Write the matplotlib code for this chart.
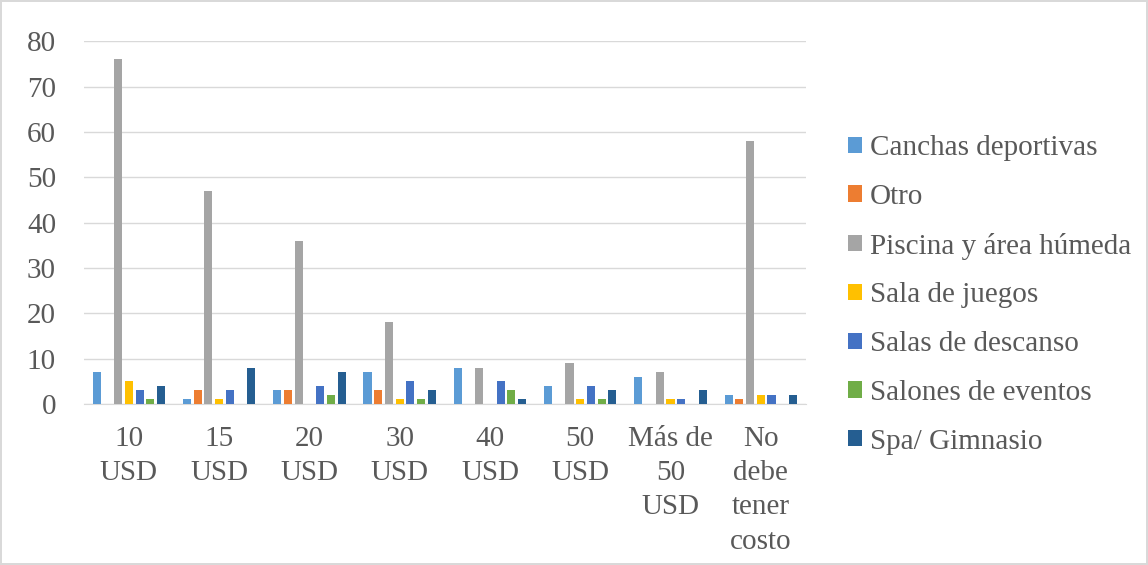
import numpy as np
import matplotlib.pyplot as plt
from matplotlib.patches import Patch

plt.rcParams['font.family'] = ['Liberation Serif', 'DejaVu Serif']

# categorías del eje x
categorias = ['10\nUSD', '15\nUSD', '20\nUSD', '30\nUSD', '40\nUSD', '50\nUSD',
              'Más de\n50\nUSD', 'No\ndebe\ntener\ncosto']

series = ['Canchas deportivas', 'Otro', 'Piscina y área húmeda', 'Sala de juegos',
          'Salas de descanso', 'Salones de eventos', 'Spa/ Gimnasio']

canchas = [7, 1, 3, 7, 8, 4, 6, 2]
otro = [0, 3, 3, 3, 0, 0, 0, 1]
piscina = [76, 47, 36, 18, 8, 9, 7, 58]
sala_juegos = [5, 1, 0, 1, 0, 1, 1, 2]
salas_descanso = [3, 3, 4, 5, 5, 4, 1, 2]
salones = [1, 0, 2, 1, 3, 1, 0, 0]
spa = [4, 8, 7, 3, 1, 3, 3, 2]

valores = [canchas, otro, piscina, sala_juegos, salas_descanso, salones, spa]
colores = ['#5B9BD5', '#ED7D31', '#A5A5A5', '#FFC000', '#4472C4', '#70AD47', '#255E91']
gris = '#595959'

fig = plt.figure(figsize=(11.48, 5.65), dpi=100)
fig.patch.set_edgecolor('#D9D9D9')
fig.patch.set_linewidth(1.5)
ax = fig.add_axes([0.073, 0.285, 0.629, 0.642])

x = np.arange(len(categorias))
paso = 0.119
ancho = 0.089
for i, (vals, col) in enumerate(zip(valores, colores)):
    ax.bar(x + (i - 3) * paso, vals, width=ancho, color=col, zorder=3)

ax.set_xlim(-0.5, len(categorias) - 0.5)
ax.set_ylim(0, 80)
ax.set_yticks(range(0, 81, 10))
ax.grid(axis='y', color='#D9D9D9', linewidth=1, zorder=0)
for s in ['top', 'right', 'left']:
    ax.spines[s].set_visible(False)
ax.spines['bottom'].set_color('#D9D9D9')
ax.tick_params(length=0, labelsize=21, colors=gris)
ax.tick_params(axis='y', pad=20)
ax.tick_params(axis='x', pad=15.5)
ax.set_xticks(x)
ax.set_xticklabels(categorias, linespacing=1.42)

handles = [Patch(facecolor=c) for c in colores]
fig.legend(handles, series, loc='center left', bbox_to_anchor=(0.726, 0.478),
           frameon=False, fontsize=21, handlelength=0.48, handleheight=0.48,
           handletextpad=0.27, labelspacing=0.78, labelcolor=gris, borderpad=0)

fig.savefig('out.png', dpi=100)
